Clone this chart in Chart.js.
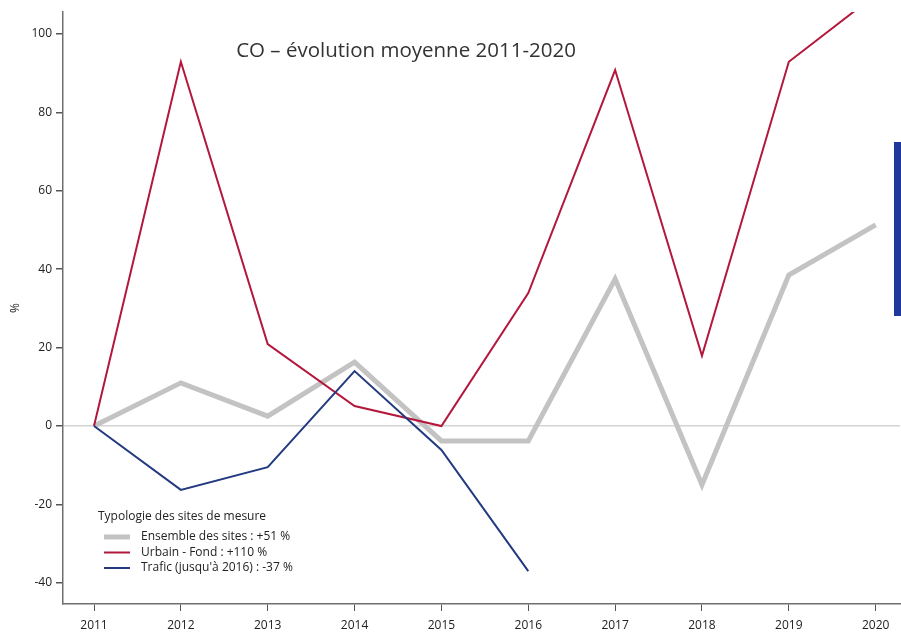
<!DOCTYPE html>
<html>
<head>
<meta charset="utf-8">
<script src="https://cdn.jsdelivr.net/npm/chart.js@4"></script>
<style>
  body { margin: 0; background: #fff; }
  #wrap { position: relative; width: 901px; height: 632px; }
  #side { position: absolute; left: 894px; top: 142px; width: 7px; height: 174px; background: #1f389b; }
</style>
</head>
<body>
<div id="wrap">
  <canvas id="c" width="901" height="632"></canvas>
  <div id="side"></div>
</div>
<script>
// data
const years = [2011, 2012, 2013, 2014, 2015, 2016, 2017, 2018, 2019, 2020]
const ensemble = [0, 11, 2.5, 16.3, -3.8, -3.8, 37.5, -15, 38.5, 51.3]
const urbain = [0, 92.9, 20.9, 5.1, 0, 33.9, 90.8, 17.9, 92.9, 110]
const trafic = [0, -16.3, -10.5, 14, -6.1, -37]
const yTicks = [-40, -20, 0, 20, 40, 60, 80, 100]
const labels = ['Ensemble des sites : +51 %', 'Urbain - Fond : +110 %', "Trafic (jusqu'à 2016) : -37 %"]

const pts = (arr) => arr.map((v, i) => ({ x: years[i], y: v }))
const FONT = "'Open Sans', 'Noto Sans', sans-serif"

// legend drawn inside the plot, lower left
const legendPlugin = {
  id: 'boxLegend',
  afterDraw(chart) {
    const ctx = chart.ctx
    ctx.save()
    ctx.font = '12px ' + FONT
    ctx.fillStyle = '#222'
    ctx.textBaseline = 'middle'
    ctx.fillText('Typologie des sites de mesure', 98, 517)
    chart.data.datasets.forEach((ds, i) => {
      const y = 537 + i * 15.5
      ctx.strokeStyle = ds.borderColor
      ctx.lineWidth = ds.borderWidth
      ctx.beginPath()
      ctx.moveTo(104, y)
      ctx.lineTo(130, y)
      ctx.stroke()
      ctx.fillText(ds.label, 141, y)
    })
    // title
    ctx.font = '20.5px ' + FONT
    ctx.fillStyle = '#333'
    ctx.textAlign = 'center'
    ctx.fillText('CO – évolution moyenne 2011-2020', 406, 51)
    ctx.restore()
  }
}

new Chart(document.getElementById('c'), {
  type: 'line',
  data: {
    datasets: [
      { label: labels[0], data: pts(ensemble), borderColor: '#c3c3c3', borderWidth: 5, pointRadius: 0, order: 3 },
      { label: labels[1], data: pts(urbain), borderColor: '#b3183c', borderWidth: 2, pointRadius: 0, order: 2 },
      { label: labels[2], data: pts(trafic), borderColor: '#233a80', borderWidth: 2, pointRadius: 0, order: 1 },
    ],
  },
  options: {
    responsive: false,
    animation: false,
    layout: { padding: { top: 12, right: 1, left: 0, bottom: 0 } },
    plugins: { legend: { display: false }, tooltip: { enabled: false } },
    scales: {
      x: {
        type: 'linear',
        min: 2010.643,
        max: 2020.28,
        afterBuildTicks: (s) => { s.ticks = years.map((v) => ({ value: v })) },
        afterFit: (s) => { s.height = 28 },
        border: { color: '#6e6e6e', width: 1.5 },
        grid: { drawOnChartArea: false, tickLength: 7, tickColor: '#555' },
        ticks: { color: '#222', font: { family: FONT, size: 12 }, padding: 7, maxRotation: 0, callback: (v) => String(v) },
      },
      y: {
        min: -45.4,
        max: 105.6,
        afterBuildTicks: (s) => { s.ticks = yTicks.map((v) => ({ value: v })) },
        afterFit: (s) => { s.width = 63 },
        border: { color: '#6e6e6e', width: 1.5 },
        grid: {
          color: (c) => (c.tick && c.tick.value === 0 ? '#d4d4d4' : 'rgba(0,0,0,0)'),
          lineWidth: 1.5,
          tickLength: 7,
          tickColor: '#555',
        },
        title: { display: true, text: '%', color: '#222', font: { family: FONT, size: 12 }, padding: { top: 8, bottom: 0 } },
        ticks: { color: '#222', font: { family: FONT, size: 12 }, padding: 4 },
      },
    },
  },
  plugins: [legendPlugin],
})
</script>
</body>
</html>
